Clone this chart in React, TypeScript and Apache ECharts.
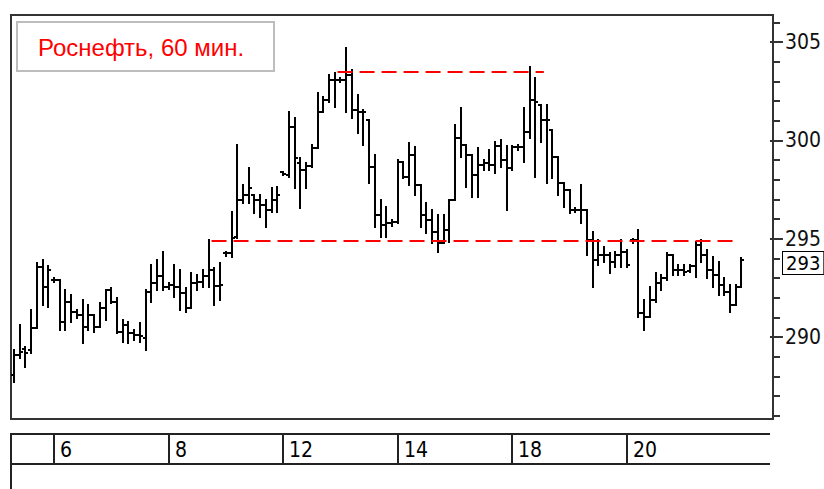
import React, { useEffect, useRef } from "react";
import * as echarts from "echarts";

const titleText = "Роснефть, 60 мин.";

const opens = [
  288.06, 289.08, 289.4, 289.34, 290.45, 293.56, 292.54, 292.89, 292.89, 290.76,
  291.78, 291.27, 291.12, 290.51, 291.12, 290.51, 291.47, 292.39, 291.78, 290.25,
  290.61, 290.2, 290.1, 289.95, 292.28, 292.74, 293.1, 292.54, 292.64, 292.54,
  292.23, 291.47, 292.74, 292.79, 293.1, 293.4, 292.59, 294.27, 294.27, 295.08,
  296.96, 297.22, 297.22, 296.96, 296.71, 296.45, 296.96, 298.39, 298.23, 300.67,
  298.84, 298.49, 298.69, 299.61, 301.44, 302.05, 303.06, 303.06, 303.06, 303.32,
  301.54, 301.44, 301.03, 298.64, 296.2, 295.69, 295.79, 295.84, 298.89, 298.13,
  299.25, 297.72, 296.2, 295.95, 295.34, 294.78, 295.44, 296.96, 300.11, 299.76,
  299.25, 298.23, 298.74, 298.84, 298.74, 299.71, 299.0, 298.59, 299.66, 299.66,
  300.42, 302.05, 301.79, 301.03, 300.52, 299.15, 297.83, 297.47, 296.45, 296.45,
  296.45, 294.93, 293.91, 294.17, 294.17, 293.81, 294.17, 294.32, 294.93, 294.93,
  291.22, 291.01, 291.88, 292.74, 293.0, 294.17, 293.4, 293.4, 293.35, 293.61,
  294.67, 294.17, 293.4, 293.15, 292.64, 292.28, 291.62, 292.54,
];

const highs = [
  289.34, 290.61, 289.49, 291.37, 293.76, 293.91, 293.61, 293.0, 292.89, 292.39,
  292.13, 291.37, 291.88, 291.62, 291.12, 291.73, 292.39, 292.49, 291.98, 290.86,
  290.76, 290.35, 290.71, 292.39, 293.66, 293.91, 294.32, 292.74, 293.66, 293.4,
  292.49, 293.25, 293.15, 293.4, 294.93, 293.5, 293.76, 294.32, 296.35, 299.76,
  297.72, 298.59, 297.22, 297.22, 296.96, 297.57, 297.62, 298.39, 301.44, 301.13,
  299.1, 298.84, 299.76, 302.4, 302.2, 303.32, 303.42, 303.16, 304.69, 303.57,
  302.3, 301.54, 301.03, 299.25, 296.96, 296.61, 295.95, 299.0, 298.89, 299.86,
  299.66, 297.72, 296.81, 296.45, 296.2, 296.2, 296.96, 300.77, 301.64, 299.76,
  299.25, 299.61, 299.0, 299.5, 299.91, 300.01, 299.71, 299.71, 299.76, 301.64,
  303.72, 303.16, 301.79, 301.79, 300.52, 299.15, 297.83, 297.47, 296.56, 297.72,
  296.45, 295.34, 294.93, 294.57, 294.27, 294.32, 294.93, 294.42, 294.98, 295.44,
  291.88, 292.54, 293.25, 293.15, 294.27, 294.17, 293.66, 293.66, 293.66, 294.83,
  294.93, 294.42, 294.06, 293.81, 293.0, 292.64, 292.64, 294.01,
];

const lows = [
  287.71, 288.93, 288.47, 289.18, 290.45, 291.62, 291.52, 292.79, 290.35, 290.35,
  290.76, 290.96, 289.69, 290.35, 290.25, 290.51, 290.86, 291.73, 290.2, 289.74,
  289.69, 289.84, 289.74, 289.34, 291.78, 292.39, 292.39, 292.44, 292.03, 291.37,
  291.27, 291.47, 292.39, 292.54, 292.54, 291.62, 291.88, 294.11, 294.06, 295.03,
  296.81, 296.81, 296.3, 296.1, 295.59, 296.35, 296.35, 298.23, 298.13, 297.57,
  296.56, 297.57, 298.64, 299.61, 301.44, 301.94, 301.69, 302.96, 301.44, 301.13,
  300.37, 299.76, 297.83, 295.59, 295.08, 295.08, 295.64, 295.79, 298.08, 297.72,
  297.22, 295.59, 295.28, 294.78, 294.32, 294.78, 294.83, 296.96, 299.15, 297.62,
  297.11, 297.11, 298.49, 298.49, 298.33, 298.64, 296.45, 298.49, 299.5, 298.89,
  300.11, 298.13, 299.91, 297.83, 298.08, 297.22, 296.61, 296.3, 296.35, 295.79,
  294.17, 292.54, 293.66, 293.81, 293.25, 293.56, 293.56, 293.56, 294.78, 291.01,
  290.35, 291.01, 291.78, 292.39, 292.89, 293.15, 293.15, 293.15, 293.3, 293.05,
  293.81, 293.0, 292.54, 292.13, 292.13, 291.27, 291.62, 292.54,
];

const closes = [
  289.08, 289.23, 289.2, 290.45, 293.56, 292.54, 293.4, 292.89, 290.76, 291.78,
  291.27, 291.12, 290.51, 291.12, 290.51, 291.47, 292.39, 291.78, 290.25, 290.61,
  290.2, 290.1, 290.05, 292.28, 292.74, 293.1, 292.54, 292.64, 292.54, 292.23,
  291.47, 292.74, 292.79, 293.1, 293.4, 292.59, 292.64, 294.27, 295.03, 296.96,
  297.22, 297.57, 296.96, 296.71, 296.45, 296.96, 297.22, 298.28, 300.67, 299.1,
  298.49, 298.69, 299.61, 301.44, 302.05, 303.06, 303.06, 303.06, 303.32, 301.54,
  301.44, 301.44, 298.64, 296.2, 295.69, 295.79, 295.84, 298.89, 298.13, 299.25,
  297.72, 296.2, 295.95, 295.34, 294.78, 295.44, 296.96, 300.11, 299.76, 299.25,
  298.23, 298.74, 298.84, 298.74, 299.71, 299.0, 298.59, 299.66, 299.66, 300.42,
  302.05, 301.94, 301.03, 301.03, 299.15, 297.83, 297.47, 296.45, 296.45, 296.45,
  294.93, 293.91, 294.17, 294.17, 293.81, 294.17, 294.32, 293.66, 294.93, 291.22,
  291.01, 291.88, 292.74, 293.0, 294.17, 293.4, 293.4, 293.3, 293.61, 294.67,
  294.17, 293.4, 293.15, 292.64, 292.28, 291.62, 292.54, 293.91,
];

const dayLabels = ["6", "8", "12", "14", "18", "20"];
const dayStartBars = [7, 27, 47, 67, 87, 107];

// price-axis tick values
const majorTicks = [290, 295, 300, 305];
const minorTicks = [
  286, 287, 288, 289, 290, 291, 292, 293, 294, 295, 296,
  297, 298, 299, 300, 301, 302, 303, 304, 305, 306,
];

const levelValues = [303.5, 294.87];
const levelFrom = [56.5, 34.5];
const levelTo = [92.5, 126];

const Y_MIN = 285.83;
const Y_MAX = 306.37;
const X_MIN = -0.5;
const X_MAX = 132.5;

const PLOT_LEFT = 11;
const PLOT_RIGHT = 51;
const PLOT_TOP = 15;
const PLOT_HEIGHT = 404;

const AXIS_FONT = '"Liberation Sans Narrow", "Arial Narrow", "DejaVu Sans Condensed", sans-serif';

// pixel position of a price inside the main plot (used to lay the tick grids over it)
const yPix = (v: number) => PLOT_TOP + ((Y_MAX - v) / (Y_MAX - Y_MIN)) * PLOT_HEIGHT;

export default function App() {
  const ref = useRef<HTMLDivElement>(null);

  useEffect(() => {
    document.body.style.margin = "0";
    if (!ref.current) return;
    const chart = echarts.init(ref.current, null, { renderer: "svg" });

    const ohlc = opens.map((o, i) => [i, o, highs[i], lows[i], closes[i]]);
    const lastClose = closes[closes.length - 1];

    const majMin = majorTicks[0];
    const majMax = majorTicks[majorTicks.length - 1];
    const minMin = minorTicks[0];
    const minMax = minorTicks[minorTicks.length - 1];

    const option: any = {
      animation: false,
      backgroundColor: "#ffffff",
      grid: [
        {
          left: PLOT_LEFT,
          right: PLOT_RIGHT,
          top: PLOT_TOP,
          height: PLOT_HEIGHT,
          show: true,
          borderColor: "#333",
          borderWidth: 2,
          backgroundColor: "#fff",
        },
        { left: PLOT_LEFT, right: PLOT_RIGHT, top: 434, height: 30, show: false },
        {
          left: PLOT_LEFT,
          right: PLOT_RIGHT,
          top: yPix(majMax),
          height: yPix(majMin) - yPix(majMax),
          show: false,
        },
        {
          left: PLOT_LEFT,
          right: PLOT_RIGHT,
          top: yPix(minMax),
          height: yPix(minMin) - yPix(minMax),
          show: false,
        },
      ],
      xAxis: [
        { type: "value", gridIndex: 0, min: X_MIN, max: X_MAX, show: false },
        { type: "value", gridIndex: 1, min: X_MIN, max: X_MAX, show: false },
        { type: "value", gridIndex: 2, min: X_MIN, max: X_MAX, show: false },
        { type: "value", gridIndex: 3, min: X_MIN, max: X_MAX, show: false },
      ],
      yAxis: [
        { type: "value", gridIndex: 0, min: Y_MIN, max: Y_MAX, show: false },
        { type: "value", gridIndex: 1, min: 0, max: 1, show: false },
        {
          type: "value",
          gridIndex: 2,
          position: "right",
          min: majMin,
          max: majMax,
          interval: 5,
          axisLine: { show: false, onZero: false },
          axisTick: { show: true, length: 13, lineStyle: { color: "#333", width: 2 } },
          axisLabel: {
            show: true,
            margin: 15,
            color: "#111",
            fontSize: 21,
            fontFamily: AXIS_FONT,
          },
          splitLine: { show: false },
        },
        {
          type: "value",
          gridIndex: 3,
          position: "right",
          min: minMin,
          max: minMax,
          interval: 1,
          axisLine: { show: false, onZero: false },
          axisTick: { show: true, length: 7, lineStyle: { color: "#333", width: 2 } },
          axisLabel: { show: false },
          splitLine: { show: false },
        },
      ],
      graphic: [
        {
          type: "rect",
          shape: { x: 17, y: 22, width: 257, height: 49 },
          style: { fill: "#fff", stroke: "#bdbdbd", lineWidth: 2 },
          z: 100,
        },
        {
          type: "text",
          x: 38,
          y: 47,
          style: {
            text: titleText,
            fill: "#ff0000",
            font: '24px "Liberation Sans", Arial, sans-serif',
            verticalAlign: "middle",
          },
          z: 101,
        },
        {
          type: "line",
          shape: { x1: 11, y1: 434, x2: 770, y2: 434 },
          style: { stroke: "#222", lineWidth: 2 },
        },
        {
          type: "line",
          shape: { x1: 11, y1: 464, x2: 770, y2: 464 },
          style: { stroke: "#222", lineWidth: 2 },
        },
        {
          type: "line",
          shape: { x1: 11, y1: 433, x2: 11, y2: 489 },
          style: { stroke: "#222", lineWidth: 2 },
        },
      ],
      series: [
        {
          type: "custom",
          xAxisIndex: 0,
          yAxisIndex: 0,
          data: ohlc,
          encode: { x: 0, y: [1, 2, 3, 4] },
          renderItem: (params: any, api: any) => {
            const i = api.value(0);
            const pO = api.coord([i, api.value(1)]);
            const pH = api.coord([i, api.value(2)]);
            const pL = api.coord([i, api.value(3)]);
            const pC = api.coord([i, api.value(4)]);
            const half = Math.max(2, Math.round(api.size([1, 0])[0] * 0.5));
            const x = Math.round(pH[0]);
            const yO = Math.round(pO[1]);
            const yC = Math.round(pC[1]);
            const style = { stroke: "#000", lineWidth: 2 };
            return {
              type: "group",
              children: [
                {
                  type: "line",
                  shape: { x1: x, y1: Math.round(pH[1]) - 1, x2: x, y2: Math.round(pL[1]) + 1 },
                  style,
                },
                { type: "line", shape: { x1: x - half, y1: yO, x2: x, y2: yO }, style },
                { type: "line", shape: { x1: x, y1: yC, x2: x + half, y2: yC }, style },
              ],
            };
          },
          markLine: {
            silent: true,
            symbol: ["none", "none"],
            label: { show: false },
            lineStyle: { color: "#ff0000", width: 2, type: [15, 7] },
            data: [
              ...levelValues.map((v, k) => [
                { coord: [levelFrom[k], v] },
                { coord: [levelTo[k], v] },
              ]),
              {
                yAxis: lastClose,
                lineStyle: { color: "rgba(0,0,0,0)", width: 0 },
                label: {
                  show: true,
                  position: "end",
                  distance: 10,
                  offset: [0, 3],
                  formatter: () => String(Math.floor(lastClose)),
                  color: "#000",
                  fontSize: 20,
                  fontFamily: AXIS_FONT,
                  backgroundColor: "#fff",
                  borderColor: "#000",
                  borderWidth: 1,
                  padding: [1, 3, 1, 3],
                },
              },
            ],
          },
        },
        {
          type: "custom",
          xAxisIndex: 1,
          yAxisIndex: 1,
          data: dayStartBars.map((b) => [b, 0]),
          encode: { x: 0, y: 1 },
          renderItem: (params: any, api: any) => {
            const x = Math.round(api.coord([api.value(0), 0])[0]);
            const cs = params.coordSys;
            return {
              type: "group",
              children: [
                {
                  type: "line",
                  shape: { x1: x, y1: cs.y, x2: x, y2: cs.y + cs.height },
                  style: { stroke: "#222", lineWidth: 2 },
                },
                {
                  type: "text",
                  x: x + 6,
                  y: cs.y + cs.height / 2 + 1,
                  style: {
                    text: dayLabels[params.dataIndex],
                    fill: "#000",
                    font: "21px " + AXIS_FONT,
                    verticalAlign: "middle",
                  },
                },
              ],
            };
          },
        },
      ],
    };

    chart.setOption(option);
    return () => chart.dispose();
  }, []);

  return <div ref={ref} style={{ width: 824, height: 489 }} />;
}
